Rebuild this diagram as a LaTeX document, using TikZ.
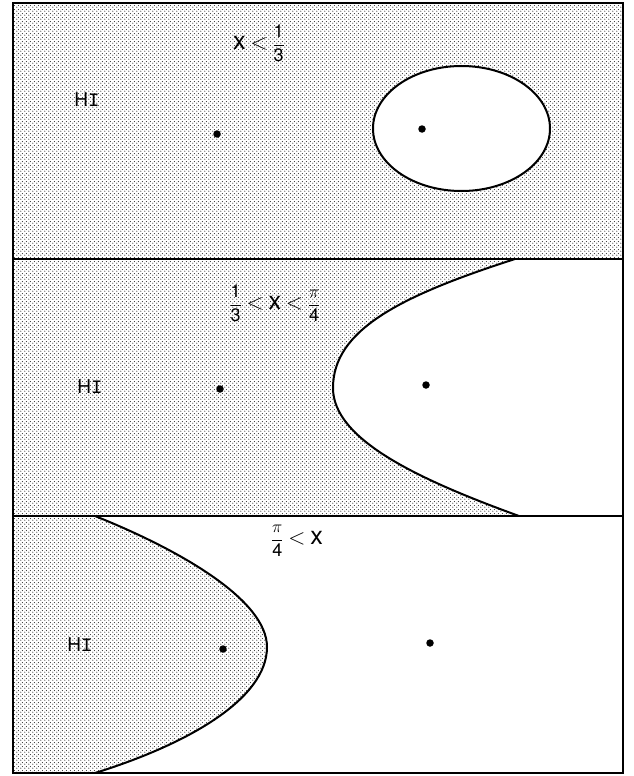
\documentclass[tikz,border=0pt]{standalone}
\usepackage{fontspec}
\setmainfont{TeX Gyre Heros}
\setsansfont{TeX Gyre Heros}
\newfontfamily\monofam{Liberation Mono}
\usetikzlibrary{patterns.meta}
\tikzdeclarepattern{
  name=stipple, type=uncolored,
  bounding box={(0pt,0pt) and (4pt,4pt)},
  tile size={(4pt,4pt)},
  code={\fill (1pt,1pt) circle (0.7pt); \fill (3pt,3pt) circle (0.7pt);}
}
\newcommand{\biglt}{\mathrel{\scalebox{1.3}{$<$}}}
\newcommand{\bigx}{\scalebox{1.4}{$\mathsf{x}$}}
\begin{document}
\begin{tikzpicture}[x=1pt,y=-1pt,
  shade/.style={pattern=stipple, pattern color=black!80},
  curve/.style={line width=2pt},
  frame/.style={line width=1.6pt},
  pt/.style={circle, fill=black, inner sep=0pt, minimum size=7.5pt},
  lab/.style={font=\fontsize{18}{20}\selectfont, inner sep=0pt},
  hi/.style={font=\fontsize{19}{21}\selectfont, inner sep=0pt}]
\useasboundingbox (0,0) rectangle (633,776);
% panel 1
\fill[shade] (13,3) rectangle (623,259);
\filldraw[fill=white, curve] (461.5,128.5) ellipse [x radius=88.5pt, y radius=62.5pt];
% panel 2
\fill[shade] (13,259) rectangle (623,516);
\fill[white] (515,259) .. controls (400,296) and (333,330) .. (333,388)
  .. controls (333,440) and (420,480) .. (519,516) -- (623,516) -- (623,259) -- cycle;
\draw[curve] (515,259) .. controls (400,296) and (333,330) .. (333,388)
  .. controls (333,440) and (420,480) .. (519,516);
% panel 3
\fill[shade] (95,516) .. controls (180,550) and (267,600) .. (267,647)
  .. controls (267,700) and (185,745) .. (95,773) -- (13,773) -- (13,516) -- cycle;
\draw[curve] (95,516) .. controls (180,550) and (267,600) .. (267,647)
  .. controls (267,700) and (185,745) .. (95,773);
% frame
\draw[frame] (13,3) rectangle (623,773);
\draw[frame] (13,259) -- (623,259);
\draw[frame] (13,516) -- (623,516);
% points
\node[pt] (a1) at (217,134) {};
\node[pt] (b1) at (422,129) {};
\node[pt] (a2) at (220,389) {};
\node[pt] (b2) at (426,385) {};
\node[pt] (a3) at (223,649) {};
\node[pt] (b3) at (430,643) {};
% labels
\node[lab] (t1) at (259,43) {$\bigx\biglt\displaystyle\frac{\mathsf{1}}{\mathsf{3}}$};
\node[lab] (t2) at (275,303) {$\displaystyle\frac{\mathsf{1}}{\mathsf{3}}\biglt\bigx\biglt\frac{\pi}{\mathsf{4}}$};
\node[lab] (t3) at (297,541) {$\displaystyle\frac{\pi}{\mathsf{4}}\biglt\bigx$};
\node[hi] (h1) at (87,100) {H{\monofam I}};
\node[hi] (h2) at (90,387) {H{\monofam I}};
\node[hi] (h3) at (80,645) {H{\monofam I}};
\end{tikzpicture}
\end{document}
